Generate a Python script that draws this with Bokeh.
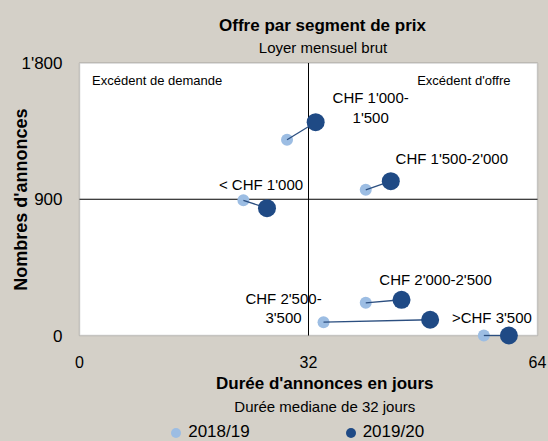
import math
from bokeh.plotting import figure
from bokeh.models import Range1d, Label, Legend, LegendItem, BoxAnnotation
from bokeh.embed import file_html
from bokeh.resources import INLINE

# ---------------- data ----------------
segments = ["< CHF 1'000", "CHF 1'000-1'500", "CHF 1'500-2'000",
            "CHF 2'000-2'500", "CHF 2'500-3'500", ">CHF 3'500"]
point_labels = ["< CHF 1'000", "CHF 1'000-\n1'500", "CHF 1'500-2'000",
                "CHF 2'000-2'500", "CHF 2'500-\n3'500", ">CHF 3'500"]
days_1819 = [22.9, 29.0, 40.0, 40.0, 34.1, 56.5]
ads_1819 = [893, 1293, 962, 216, 88, 0]
days_1920 = [26.2, 33.0, 43.5, 45.0, 49.0, 60.0]
ads_1920 = [841, 1409, 1019, 236, 104, 0]
season_labels = ["2018/19", "2019/20"]
x_ticks = [0, 32, 64]
x_tick_labels = ["0", "32", "64"]
y_ticks = [0, 900, 1800]
y_tick_labels = ["0", "900", "1'800"]
x_min, x_max = 0, 64
y_min, y_max = 0, 1800
median_days = 32
ads_threshold = 900

# ---------------- styles / layout ----------------
W, H = 548, 441
FRAME_L, FRAME_R, FRAME_T, FRAME_B = 79, 537, 62.5, 335   # pixel box of the white plot area
BG = "#d4d0c8"
LIGHT = "#9cbde3"
DARK = "#1f4a85"
LINK = "#2c4f80"
FONT = "Liberation Sans"

label_anchor = [1, 1, 1, 1, 0, 1]          # 0 = 2018/19 point, 1 = 2019/20 point
label_dx = [-6, 55, 61, 34, -40, -17]
label_dy = [24, 24.5, 22.4, 20, 23.7, 18.5]
line_step = 19.5

# the canvas is all frame; the ranges are extended so that the white box
# (x_min..x_max, y_min..y_max) lands on FRAME_L..FRAME_R / FRAME_T..FRAME_B
kx = (FRAME_R - FRAME_L) / (x_max - x_min)
ky = (FRAME_B - FRAME_T) / (y_max - y_min)
x_range = Range1d(x_min - FRAME_L / kx, x_max + (W - FRAME_R) / kx)
y_range = Range1d(y_min - (H - FRAME_B) / ky, y_max + FRAME_T / ky)

p = figure(width=W, height=H, x_range=x_range, y_range=y_range,
           output_backend="svg", toolbar_location=None, title=None,
           min_border=0, min_border_left=0, min_border_right=0,
           min_border_top=0, min_border_bottom=0,
           background_fill_color=BG, border_fill_color=BG,
           outline_line_color=None)
p.grid.visible = False
p.axis.visible = False

# white plotting area with its grey frame
p.add_layout(BoxAnnotation(left=x_min, right=x_max, bottom=y_min, top=y_max,
                           fill_color="white", fill_alpha=1,
                           line_color="#6f6f6f", line_width=1.5, level="underlay"))

# quadrant lines (median duration, threshold of ads)
p.segment(x0=[median_days, x_min], y0=[y_min, ads_threshold],
          x1=[median_days, x_max], y1=[y_max, ads_threshold],
          line_color="black", line_width=1)

r_light = p.scatter(days_1819, ads_1819, size=12, fill_color=LIGHT, line_color=None)
p.segment(days_1819, ads_1819, days_1920, ads_1920, line_color=LINK, line_width=1.3)
r_dark = p.scatter(days_1920, ads_1920, size=18, fill_color=DARK, line_color=None)


def add_text(text, x, y, dx, dy, size, bold=False, align="center", angle=0.0):
    p.add_layout(Label(x=x, y=y, x_offset=dx, y_offset=dy, text=text,
                       text_font=FONT, text_font_size=f"{size}px",
                       text_font_style="bold" if bold else "normal",
                       text_align=align, text_baseline="middle",
                       angle=angle, text_color="black"))


# tick labels, placed at the tick values
for t, lab in zip(x_ticks, x_tick_labels):
    add_text(lab, t, y_min, 0, -26.7, 16)
for t, lab in zip(y_ticks, y_tick_labels):
    add_text(lab, x_min, t, -17, 0, 17, align="right")

# point labels
pts = [(days_1819, ads_1819), (days_1920, ads_1920)]
for i, txt in enumerate(point_labels):
    xs, ys = pts[label_anchor[i]]
    for j, line in enumerate(txt.split("\n")):
        add_text(line, xs[i], ys[i], label_dx[i], label_dy[i] - j * line_step, 15)

# quadrant captions
add_text("Excédent de demande", x_min, y_max, 12.6, -17.5, 13, align="left")
add_text("Excédent d'offre", x_max, y_max, -27, -17.5, 13, align="right")

# titles and axis titles (anchored at the lower-left corner of the plot area)
add_text("Offre par segment de prix", x_min, y_min, 243, 310.3, 17, bold=True)
add_text("Loyer mensuel brut", x_min, y_min, 243.5, 287.7, 15)
add_text("Nombres d'annonces", x_min, y_min, -58.6, 135.8, 18, bold=True,
         angle=math.pi / 2)
add_text("Durée d'annonces en jours", x_min, y_min, 245.3, -48.3, 17, bold=True)
add_text("Durée mediane de 32 jours", x_min, y_min, 245.3, -70.5, 15)

legend = Legend(items=[LegendItem(label=season_labels[0], renderers=[r_light]),
                       LegendItem(label=season_labels[1], renderers=[r_dark])],
                location=(163.2, -3.5), orientation="horizontal",
                glyph_width=25, glyph_height=25, label_standoff=0, spacing=88,
                padding=0, margin=0, border_line_color=None,
                background_fill_alpha=0, label_text_font=FONT,
                label_text_font_size="17px", label_text_color="black")
p.add_layout(legend)

html = file_html(p, INLINE, title="Offre par segment de prix")
html = html.replace("</head>", "<style>html, body {background-color: #d4d0c8;}</style></head>", 1)
open("out.html", "w").write(html)
